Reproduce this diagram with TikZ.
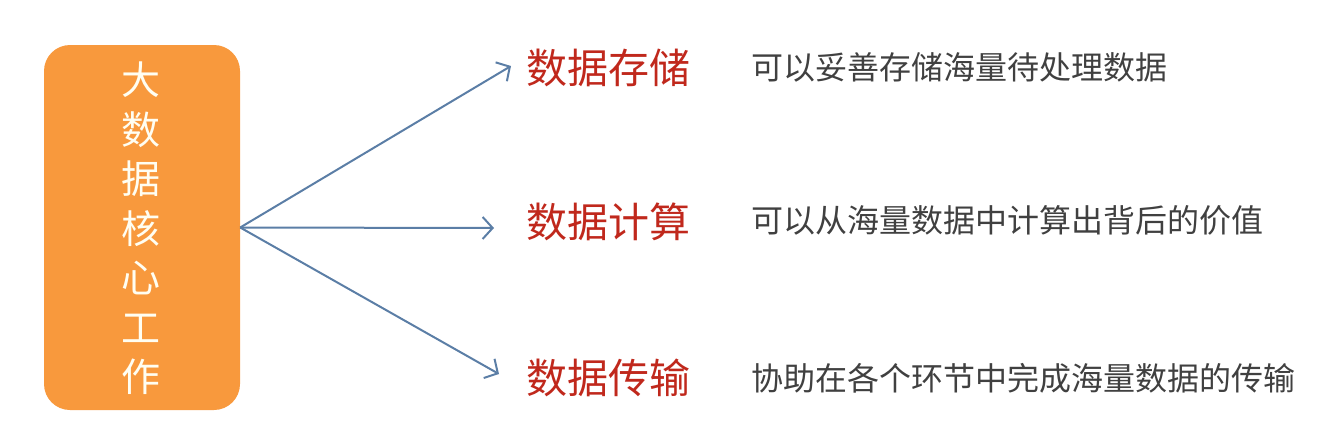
\documentclass[tikz,border=0pt]{standalone}
\usepackage{fontspec}
\newfontfamily\cjk{Noto Sans CJK SC}
\usetikzlibrary{arrows.meta}
\definecolor{boxorange}{HTML}{F8993D}
\definecolor{arrowblue}{HTML}{5B7EA6}
\definecolor{labelred}{HTML}{C0281C}
\definecolor{descgray}{HTML}{404040}
\begin{document}
\begin{tikzpicture}[x=1pt,y=-1pt,
  corebox/.style={fill=boxorange, draw=none, rounded corners=26pt, minimum width=196pt, minimum height=365pt, inner sep=0pt},
  coretext/.style={text=white!95!yellow, align=center, font=\cjk\fontsize{39}{49.5}\selectfont},
  conn/.style={draw=arrowblue, line width=2pt, -{Straight Barb[length=10pt,width=22pt,line width=2pt]}},
  keylabel/.style={anchor=west, text=labelred, inner sep=0pt, font=\cjk\fontsize{41}{45}\selectfont},
  desc/.style={anchor=west, text=descgray, inner sep=0pt, font=\cjk\fontsize{32}{38}\selectfont}
]
\useasboundingbox (0,0) rectangle (1336,421);
\node[corebox] (box) at (142,227.5) {};
\node[coretext] (boxtext) at (141,228.5) {大\\数\\据\\核\\心\\工\\作};

\coordinate (t1) at (511,66);
\coordinate (t2) at (494,228);
\coordinate (t3) at (499,374);

\draw[conn] (box.east) -- (t1);
\draw[conn] (box.east) -- (t2);
\draw[conn] (box.east) -- (t3);

\node[keylabel] (k1) at (526,68) {数据存储};
\node[keylabel] (k2) at (526,222) {数据计算};
\node[keylabel] (k3) at (526,378) {数据传输};

\node[desc] (d1) at (751,67) {可以妥善存储海量待处理数据};
\node[desc] (d2) at (751,220) {可以从海量数据中计算出背后的价值};
\node[desc] (d3) at (751,378) {协助在各个环节中完成海量数据的传输};
\end{tikzpicture}
\end{document}
